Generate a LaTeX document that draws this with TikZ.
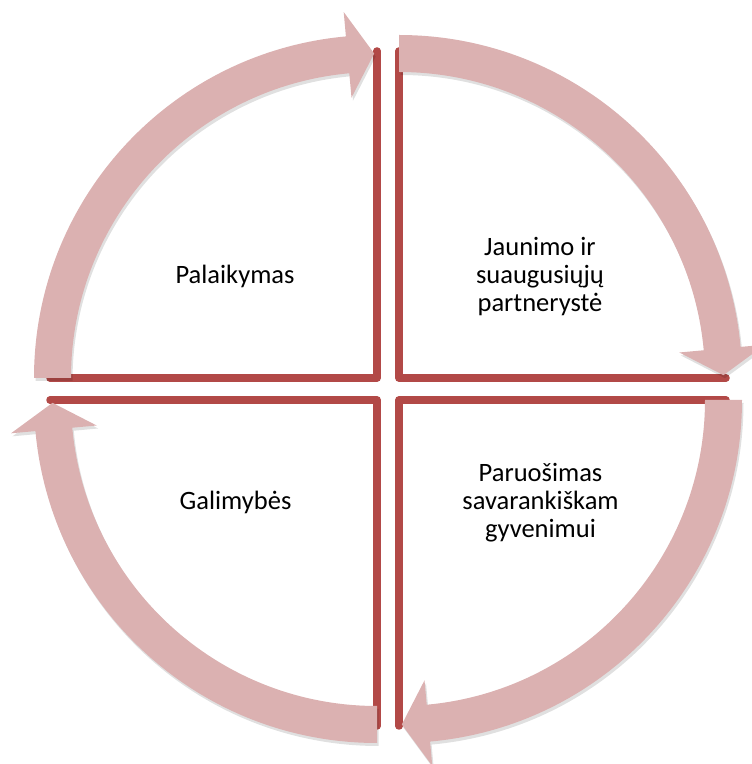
\documentclass[tikz,border=0pt]{standalone}
\usepackage{fontspec}
\setmainfont{Carlito}
\definecolor{linienrot}{RGB}{178,73,71}
\definecolor{pfeilrosa}{RGB}{219,177,177}
\begin{document}
\begin{tikzpicture}[x=1pt,y=1pt,
	linie/.style={draw=linienrot, line width=7.5pt, line cap=round, line join=round,
		preaction={draw=black, draw opacity=0.13, transform canvas={shift={(1.5pt,-2.5pt)}}}},
	pfeil/.style={fill=pfeilrosa,
		preaction={fill=black, fill opacity=0.12, transform canvas={shift={(1.5pt,-3pt)}}}},
	beschriftung/.style={align=center, inner sep=0pt, font=\fontsize{26.5}{28}\selectfont}]
	\useasboundingbox (0,0) rectangle (752,764);

	\coordinate (ol) at (377,386);%Ecke oben links
	\coordinate (or) at (399,386);%Ecke oben rechts
	\coordinate (ur) at (399,364);%Ecke unten rechts
	\coordinate (ul) at (377,364);%Ecke unten links

	\draw[linie] (377,713) -- (ol) -- (50,386);%Winkel oben links
	\draw[linie] (399,713) -- (or) -- (726,386);%Winkel oben rechts
	\draw[linie] (399,38) -- (ur) -- (726,364);%Winkel unten rechts
	\draw[linie] (377,38) -- (ul) -- (50,364);%Winkel unten links

	\fill[pfeil] ([shift={(180:343)}]ol) arc[start angle=180, end angle=95.2, radius=343]
		-- ([shift={(95.2:367.5)}]ol) -- ([shift={(90.5:324.5)}]ol) -- ([shift={(95.2:281.5)}]ol)
		-- ([shift={(95.2:306)}]ol) arc[start angle=95.2, end angle=180, radius=306] -- cycle;%Pfeil links oben
	\fill[pfeil] ([shift={(90:343)}]or) arc[start angle=90, end angle=5.2, radius=343]
		-- ([shift={(5.2:367.5)}]or) -- ([shift={(0.5:324.5)}]or) -- ([shift={(5.2:281.5)}]or)
		-- ([shift={(5.2:306)}]or) arc[start angle=5.2, end angle=90, radius=306] -- cycle;%Pfeil rechts oben
	\fill[pfeil] ([shift={(0:343)}]ur) arc[start angle=0, end angle=-84.8, radius=343]
		-- ([shift={(-84.8:367.5)}]ur) -- ([shift={(-89.5:324.5)}]ur) -- ([shift={(-84.8:281.5)}]ur)
		-- ([shift={(-84.8:306)}]ur) arc[start angle=-84.8, end angle=0, radius=306] -- cycle;%Pfeil rechts unten
	\fill[pfeil] ([shift={(-90:343)}]ul) arc[start angle=-90, end angle=-174.8, radius=343]
		-- ([shift={(-174.8:367.5)}]ul) -- ([shift={(-179.5:324.5)}]ul) -- ([shift={(-174.8:281.5)}]ul)
		-- ([shift={(-174.8:306)}]ul) arc[start angle=-174.8, end angle=-90, radius=306] -- cycle;%Pfeil links unten

	\node[beschriftung, anchor=base] (palaikymas) at (235,480) {Palaikymas};
	\node[beschriftung] (partneryste) at (540,487.6) {Jaunimo ir\\suaugusiųjų\\partnerystė};
	\node[beschriftung] (paruosimas) at (540.5,261) {Paruošimas\\savarankiškam\\gyvenimui};
	\node[beschriftung, anchor=base] (galimybes) at (235.5,254) {Galimybės};

\end{tikzpicture}
\end{document}
